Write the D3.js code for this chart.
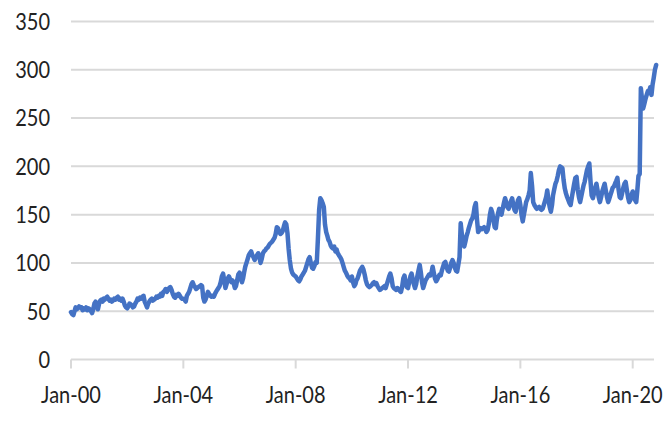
<!DOCTYPE html>
<html>
<head>
<meta charset="utf-8">
<script src="https://cdn.jsdelivr.net/npm/d3@7"></script>
<style>
  html, body { margin: 0; padding: 0; background: #ffffff; }
  svg { display: block; }
  text { font-family: Lato, "Open Sans", sans-serif; fill: #222222; }
</style>
</head>
<body>
<svg id="chart" width="672" height="421"></svg>
<script>
// Semi-monthly values (1st and 16th of each month), Jan 2000 onward
const startYear = 2000;
const values = [
  // 2000
  49, 47, 46, 50, 54, 52, 53, 55, 54, 54, 51, 53, 52, 54, 51, 53, 52, 50, 48, 52, 58, 60, 56, 52,
  // 2001
  58, 61, 62, 60, 63, 62, 64, 65, 63, 61, 62, 60, 61, 63, 62, 64, 65, 62, 63, 61, 63, 60, 56, 54,
  // 2002
  53, 55, 58, 57, 56, 54, 55, 58, 60, 63, 62, 64, 63, 65, 66, 60, 57, 54, 58, 60, 62, 63, 61, 62,
  // 2003
  63, 65, 64, 66, 65, 68, 66, 70, 71, 73, 70, 72, 74, 75, 72, 68, 65, 64, 67, 66, 68, 66, 64, 63,
  // 2004
  63, 62, 60, 66, 68, 70, 74, 78, 80, 77, 75, 73, 74, 75, 76, 77, 76, 64, 60, 62, 66, 70, 68, 66,
  // 2005
  65, 66, 65, 68, 70, 72, 74, 76, 80, 86, 89, 82, 74, 78, 84, 86, 83, 80, 82, 79, 74, 76, 82, 88,
  // 2006
  90, 85, 80, 84, 90, 96, 100, 104, 108, 110, 112, 108, 106, 103, 106, 108, 110, 106, 100, 104, 110, 112, 113, 115,
  // 2007
  116, 118, 120, 121, 122, 124, 126, 130, 137, 136, 132, 130, 131, 133, 138, 142, 140, 131, 115, 103, 94, 90, 88, 87,
  // 2008
  86, 84, 82, 81, 83, 86, 88, 90, 92, 96, 100, 104, 106, 100, 95, 94, 97, 101, 100, 125, 155, 167, 165, 162,
  // 2009
  158, 140, 132, 128, 124, 122, 118, 116, 115, 117, 112, 114, 110, 108, 106, 104, 100, 96, 92, 90, 87, 85, 84, 82,
  // 2010
  86, 80, 76, 78, 82, 84, 88, 92, 94, 96, 93, 88, 82, 78, 76, 75, 76, 77, 79, 80, 78, 79, 76, 74,
  // 2011
  72, 73, 74, 75, 76, 74, 78, 82, 86, 89, 84, 76, 74, 73, 72, 74, 73, 71, 70, 75, 84, 87, 80, 75,
  // 2012
  74, 80, 86, 89, 84, 78, 74, 78, 86, 92, 98, 90, 80, 74, 78, 82, 84, 86, 88, 87, 90, 96, 90, 84,
  // 2013
  81, 83, 86, 88, 87, 92, 96, 100, 101, 96, 92, 91, 95, 100, 103, 100, 95, 92, 91, 98, 106, 141, 130, 122,
  // 2014
  117, 122, 128, 132, 136, 140, 144, 146, 150, 158, 162, 145, 132, 134, 136, 135, 136, 137, 135, 132, 134, 140, 150, 156,
  // 2015
  152, 144, 137, 136, 145, 151, 156, 153, 150, 156, 162, 167, 163, 158, 156, 160, 164, 167, 160, 155, 153, 160, 165, 167,
  // 2016
  160, 150, 143, 150, 156, 163, 166, 170, 175, 193, 180, 163, 160, 158, 156, 157, 158, 156, 155, 156, 160, 164, 168, 175,
  // 2017
  165, 158, 153, 160, 170, 176, 182, 185, 190, 196, 200, 199, 198, 186, 177, 172, 168, 165, 162, 160, 168, 175, 182, 188,
  // 2018
  189, 176, 168, 163, 168, 174, 180, 184, 190, 196, 200, 203, 185, 170, 167, 172, 178, 182, 175, 168, 163, 168, 174, 178,
  // 2019
  182, 175, 168, 163, 166, 170, 174, 178, 179, 182, 185, 188, 176, 168, 167, 172, 178, 182, 184, 176, 168, 163, 165, 170,
  // 2020
  174, 170, 165, 163, 175, 190, 192, 281, 270, 260, 265, 270, 274, 278, 276, 282, 274, 285, 292, 300, 305
];
const yTicks = [0, 50, 100, 150, 200, 250, 300, 350];
const xTickYears = [2000, 2004, 2008, 2012, 2016, 2020];

const data = values.map((v, i) => {
  const m = Math.floor(i / 2);
  return {
    date: new Date(startYear + Math.floor(m / 12), m % 12, i % 2 === 0 ? 1 : 16),
    value: v
  };
});

const svg = d3.select("#chart");
const x = d3.scaleTime()
  .domain([new Date(2000, 0, 1), new Date(2020, 0, 1)])
  .range([71, 632.7]);
const y = d3.scaleLinear().domain([0, 350]).range([359.5, 21.5]);

// gridlines
svg.append("g")
  .selectAll("line")
  .data(yTicks)
  .join("line")
  .attr("x1", 71).attr("x2", 654)
  .attr("y1", d => y(d)).attr("y2", d => y(d))
  .attr("stroke", "#d9d9d9")
  .attr("stroke-width", 2);

// y labels
svg.append("g")
  .selectAll("text")
  .data(yTicks)
  .join("text")
  .attr("transform", d => `translate(50,${y(d)}) scale(1,1.15)`)
  .attr("text-anchor", "end")
  .attr("dy", "0.36em")
  .attr("font-size", 20)
  .text(d => d);

// x axis ticks
const fmt = d3.timeFormat("%b-%y");
const xTickDates = xTickYears.map(yr => new Date(yr, 0, 1));
svg.append("g")
  .selectAll("line")
  .data(xTickDates)
  .join("line")
  .attr("x1", d => x(d)).attr("x2", d => x(d))
  .attr("y1", y(0)).attr("y2", y(0) + 9)
  .attr("stroke", "#d9d9d9")
  .attr("stroke-width", 2);

svg.append("g")
  .selectAll("text")
  .data(xTickDates)
  .join("text")
  .attr("transform", d => `translate(${x(d)},403) scale(1,1.15)`)
  .attr("text-anchor", "middle")
  .attr("font-size", 20)
  .text(d => fmt(d));

// line
const line = d3.line()
  .x(d => x(d.date))
  .y(d => y(d.value));

svg.append("path")
  .datum(data)
  .attr("d", line)
  .attr("fill", "none")
  .attr("stroke", "#4472C4")
  .attr("stroke-width", 4.5)
  .attr("stroke-linejoin", "round")
  .attr("stroke-linecap", "round");
</script>
</body>
</html>
